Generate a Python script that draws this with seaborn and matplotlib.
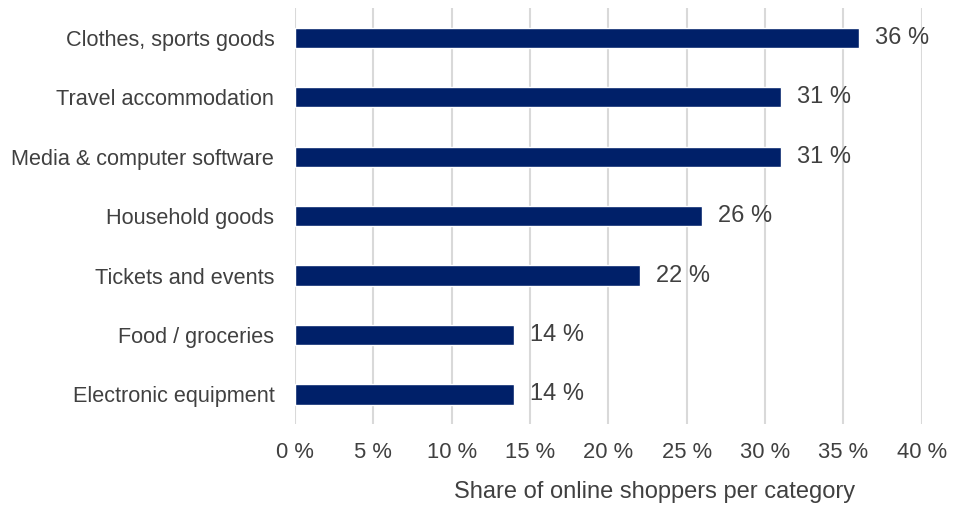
import matplotlib
matplotlib.use("Agg")
import matplotlib.pyplot as plt
import seaborn as sns
import pandas as pd

categories = [
    "Clothes, sports goods",
    "Travel accommodation",
    "Media & computer software",
    "Household goods",
    "Tickets and events",
    "Food / groceries",
    "Electronic equipment",
]
shares = [36, 31, 31, 26, 22, 14, 14]
x_ticks = [0, 5, 10, 15, 20, 25, 30, 35, 40]

sns.set_theme(style="white")
plt.rcParams["font.family"] = ["Liberation Sans", "DejaVu Sans"]

text_color = "#404040"
bar_color = "#002069"

df = pd.DataFrame({"category": categories, "share": shares})

fig = plt.figure(figsize=(9.55, 5.08), dpi=100)
ax = fig.add_axes([0.309, 0.165, 0.656, 0.819])

sns.barplot(data=df, x="share", y="category", orient="h", color=bar_color,
            width=0.34, saturation=1, ax=ax, zorder=3)

ax.set_xlim(0, 40)
ax.set_ylim(6.5, -0.5)
ax.set_xticks(x_ticks)
ax.set_xticklabels([f"{t} %" for t in x_ticks])
ax.grid(axis="x", color="#d9d9d9", linewidth=1.5, zorder=0)
ax.grid(axis="y", visible=False)
for side in ax.spines.values():
    side.set_visible(False)

ax.tick_params(axis="x", length=0, pad=13, labelsize=15.8, labelcolor=text_color)
ax.tick_params(axis="y", length=0, pad=15, labelsize=15.6, labelcolor=text_color)
ax.set_ylabel("")
ax.set_xlabel("Share of online shoppers per category", fontsize=17,
              color=text_color)
ax.xaxis.set_label_coords(0.574, -0.137)

for container in ax.containers:
    ax.bar_label(container, labels=[f"{v} %" for v in shares], padding=11.5,
                 fontsize=17, color=text_color)

fig.savefig("out.png", dpi=100)
